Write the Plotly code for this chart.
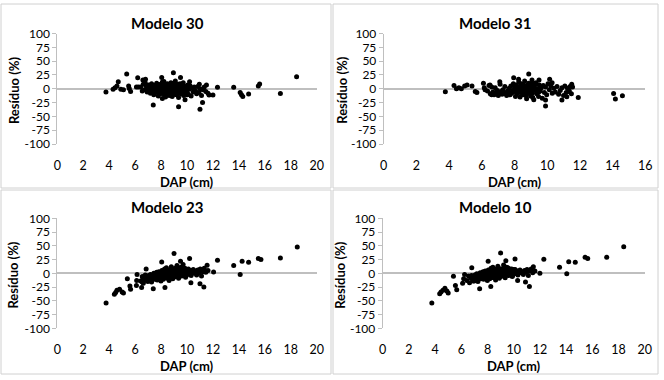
import plotly.graph_objects as go

W, H = 664, 380

# ---------------- data ----------------
# DAP (cm) of the dense cloud of trees, shared by Modelo 30, 23 and 10
dap_cloud = [
    6.42, 6.55, 6.63, 6.71, 6.78, 6.86, 6.93, 6.98, 7.04, 7.09,
    7.13, 7.18, 7.22, 7.27, 7.33, 7.38, 7.44, 7.48, 7.52, 7.57,
    7.61, 7.66, 7.70, 7.74, 7.79, 7.83, 7.87, 7.91, 7.95, 7.99,
    8.03, 8.06, 8.10, 8.13, 8.17, 8.20, 8.24, 8.27, 8.31, 8.34,
    8.38, 8.41, 8.45, 8.48, 8.52, 8.55, 8.59, 8.62, 8.66, 8.69,
    8.72, 8.76, 8.79, 8.83, 8.86, 8.90, 8.93, 8.97, 9.01, 9.04,
    9.08, 9.12, 9.15, 9.19, 9.23, 9.27, 9.31, 9.35, 9.39, 9.43,
    9.47, 9.51, 9.56, 9.60, 9.65, 9.69, 9.74, 9.79, 9.84, 9.89,
    9.94, 9.99, 10.05, 10.11, 10.18, 10.25, 10.32, 10.40, 10.48, 10.56,
    10.65, 10.74, 10.83, 10.92, 11.02, 11.12, 11.22, 11.33, 11.45, 11.62,
    7.35, 7.58, 7.81, 7.97, 8.08, 8.15, 8.22, 8.29, 8.36, 8.43,
    8.50, 8.57, 8.64, 8.71, 8.78, 8.85, 8.92, 8.99, 9.06, 9.13,
    9.20, 9.29, 9.37, 9.45, 9.53, 9.62, 9.71, 9.81, 9.92, 10.02,
    7.12, 7.46, 7.73, 8.01, 8.26, 8.47, 8.68, 8.88, 9.10, 9.33,
]

res30_cloud = [
    3, -4, 8, -2, 11, 5, -6, 1, 7, -3,
    4, -8, 2, 9, -5, 0, -11, 6, -2, 3,
    -7, 10, -1, 4, -13, 2, -4, 7, -9, 1,
    5, -3, 12, -6, 0, 8, -10, 3, -2, -15,
    6, -5, 1, 9, -8, 4, -1, -12, 7, 2,
    -4, 11, -7, 3, -14, 0, 6, -2, 10, -9,
    2, -6, 5, -11, 8, -3, 1, -16, 4, -7,
    9, -2, -9, 3, -5, 6, -12, 0, 4, -8,
    2, -4, 7, -10, -1, 5, -13, 1, -6, 3,
    -3, -9, 4, -7, 0, -12, -2, 3, -5, -8,
    -1, 5, -3, 8, -6, 2, 13, -4, 0, 6,
    -2, 3, -7, 1, 9, -5, 4, -1, -10, 7,
    0, -4, 6, -8, 2, -3, 11, -6, 1, -11,
    6, -5, 2, 4, -9, 3, -1, 5, -4, 8,
]

res23_cloud = [
    -14, -6, -18, -9, -3, -13, -7, -15, -4, -10,
    -12, -2, -8, -16, -5, -9, 0, -11, -6, -3,
    -8, 2, -12, -4, -7, 3, -10, -1, -5, -14,
    -2, 5, -6, 0, -11, 4, -3, 8, -8, 1,
    -5, 10, -1, -9, 3, -4, 6, -13, 0, 4,
    -7, 2, 12, -3, 5, -10, 1, 7, -4, 3,
    9, -6, 4, 0, 14, -2, 6, -9, 3, 8,
    -1, 5, 11, -5, 2, 7, -3, 4, 9, -7,
    3, 6, -2, 8, 1, 5, -4, 2, 7, 0,
    4, -3, 6, 1, 8, -5, 3, 9, 2, 5,
    -9, -3, -6, 0, -4, 3, -8, 2, -5, 6,
    1, -6, 4, -2, 8, -1, 3, -7, 5, 0,
    6, 2, -3, 10, 4, -4, 7, 1, -5, 5,
    -13, -7, -1, -5, 2, -8, 4, -3, 6, 1,
]

res10_cloud = [
    -13, -5, -17, -8, -4, -12, -6, -14, -3, -9,
    -11, -1, -9, -15, -4, -8, 1, -10, -7, -2,
    -7, 3, -11, -5, -6, 4, -9, 0, -4, -13,
    -1, 6, -5, 1, -10, 3, -2, 9, -7, 2,
    -4, 11, 0, -8, 2, -3, 7, -12, 1, 5,
    -6, 3, 13, -2, 4, -9, 2, 8, -3, 2,
    8, -5, 5, 1, 15, -1, 5, -8, 4, 7,
    0, 6, 10, -4, 3, 6, -2, 5, 8, -6,
    2, 7, -1, 7, 2, 4, -3, 3, 6, 1,
    3, -2, 5, 2, 7, -4, 4, 8, 1, 4,
    -8, -2, -5, 1, -3, 4, -7, 3, -4, 7,
    2, -5, 5, -1, 9, 0, 4, -6, 6, 1,
    7, 3, -2, 11, 5, -3, 8, 2, -4, 6,
    -12, -6, 0, -4, 3, -7, 5, -2, 7, 2,
]

# scattered trees (outside the dense cloud)
dap30_out = [3.75, 4.3, 4.45, 4.6, 4.7, 4.9, 5.1, 5.35, 5.5, 5.55, 5.65, 6.1, 6.2, 6.25,
             6.6, 6.8, 7.0, 7.4, 8.05, 8.1, 8.95, 9.1, 9.35, 9.5, 9.85, 10.2, 10.95,
             11.0, 11.2, 11.5, 11.7, 12.0, 12.35, 13.6, 14.1, 14.2, 14.3, 14.75,
             15.5, 15.6, 17.2, 18.45]
res30_out = [-6, -1, 2, 5, 12.6, -1, -2, 26.5, 5, 0.6, -5, 3, 20, 3,
             16, 17, 2, -29.5, 20.5, -17.5, 29, 14, -32.5, 20.5, -20, 12.6, 8,
             -37, -25, 6.6, -11.5, -11.5, 2.5, 2.5, -7, -11, -14, -9.6,
             5, 8.5, -8.5, 21.7]

dap23_out = [3.76, 4.4, 4.5, 4.6, 4.8, 5.0, 5.1, 5.4, 5.6, 5.65, 6.1, 6.12, 6.15,
             6.5, 6.55, 6.6, 6.85, 7.4, 8.05, 8.3, 9.0, 9.5, 9.7, 10.2, 10.3, 11.0,
             11.3, 11.55, 12.05, 12.35, 13.6, 14.1, 14.25, 14.75, 15.5, 15.7, 17.2, 18.5]
res23_out = [-54, -38, -35, -31, -29, -34, -36, -10, -23, -29, -22, -13, -2,
             -26, -16, -8, 8, -28, 20.6, -26, 35.8, 22, 16, 26.7, -17, -19,
             -25, 14.5, 2.4, 23.6, 14, -2, 22, 20, 27, 25, 28, 48]

dap10_out = [3.75, 4.35, 4.45, 4.6, 4.75, 4.9, 5.0, 5.4, 5.55, 5.65, 6.1, 6.18, 6.25,
             6.8, 6.85, 6.9, 7.4, 8.05, 8.25, 9.0, 9.4, 10.1, 10.3, 10.9, 11.2,
             11.5, 12.0, 12.3, 13.5, 14.05, 14.2, 14.7, 15.45, 15.65, 17.1, 18.4]
res10_out = [-54, -37, -34, -31, -27, -32, -36, -5.5, -22, -30, -18, -10, -2,
             10, -8, -14, -28, 22, -24, 37, 23, 26, -13, -16, -24,
             12, 0, 25.5, 11, -1, 21, 20, 29, 27, 29, 48.5]

# Modelo 31 (different set of trees)
dap31_cloud = [
    6.35, 6.44, 6.52, 6.61, 6.68, 6.75, 6.82, 6.88, 6.95, 7.01,
    7.07, 7.12, 7.18, 7.24, 7.29, 7.35, 7.41, 7.46, 7.52, 7.57,
    7.63, 7.68, 7.73, 7.78, 7.83, 7.88, 7.93, 7.98, 8.02, 8.06,
    8.10, 8.14, 8.18, 8.22, 8.26, 8.30, 8.34, 8.38, 8.42, 8.46,
    8.50, 8.54, 8.58, 8.62, 8.66, 8.70, 8.74, 8.78, 8.82, 8.86,
    8.90, 8.94, 8.98, 9.02, 9.06, 9.10, 9.14, 9.18, 9.22, 9.27,
    9.32, 9.37, 9.42, 9.47, 9.52, 9.58, 9.64, 9.70, 9.76, 9.83,
    9.90, 9.97, 10.05, 10.13, 10.22, 10.31, 10.40, 10.50, 10.60, 10.70,
    10.80, 10.90, 11.00, 11.08, 11.16, 11.24, 11.32, 11.40, 11.48, 11.55,
    8.04, 8.16, 8.28, 8.40, 8.52, 8.64, 8.76, 8.88, 9.00, 9.12,
    9.24, 9.36, 9.48, 8.09, 8.33, 8.57, 8.81, 9.05, 8.45, 8.69,
]
res31_cloud = [
    -4, 6, -9, 3, -6, -11, 2, -7, -3, -12,
    -8, 8, -5, -10, -2, -7, 4, -9, -12, -4,
    -6, 1, -11, 5, -8, -3, 9, -5, 2, -14,
    7, -9, 3, -4, 12, -1, -15, 5, -6, 1,
    -11, 8, -3, 14, -7, 2, -18, 4, -2, 10,
    -5, 6, -13, 1, 9, -8, 3, -20, 5, -3,
    11, -9, 0, -14, 7, -4, 2, -17, 6, -7,
    3, -11, 9, -2, 5, -8, 1, -6, 4, -10,
    -3, 2, -12, 5, -7, 1, -5, 4, -9, 3,
    -2, 4, -7, 9, -10, 1, 6, -5, 3, -16,
    8, -1, -6, 2, -4, 5, -8, 0, 7, -12,
]
dap31_out = [3.77, 4.3, 4.45, 4.6, 4.75, 4.95, 5.1, 5.4, 5.6, 5.7, 6.1, 6.15, 6.2,
             6.5, 6.6, 7.1, 7.95, 8.25, 8.87, 9.07, 9.5, 9.9, 9.9, 10.15, 10.3,
             10.9, 11.2, 11.35, 11.5, 11.9, 14.06, 14.17, 14.6]
res31_out = [-5.4, 6, 0, 2, 0, 5, 6.6, 5, -5, -7, 10, 2, -2,
             7, -11, 12.6, 20, 17, 26.5, 15.7, 15.7, -20.5, -31, 17, 11,
             -20.5, -14.5, -3.6, 8, -15.7, -8.4, -18.7, -12.6]

panel_titles = ["Modelo 30", "Modelo 31", "Modelo 23", "Modelo 10"]
x_max = [20, 16, 20, 20]
y_ticks = [-100, -75, -50, -25, 0, 25, 50, 75, 100]
y_tick_text = ["-100", "-75", "-50", "-25", "0", "25", "50", "75", "100"]
x_title = "DAP (cm)"
y_title = "Resíduo (%)"

series = [
    (dap_cloud + dap30_out, res30_cloud + res30_out),
    (dap31_cloud + dap31_out, res31_cloud + res31_out),
    (dap_cloud + dap23_out, res23_cloud + res23_out),
    (dap_cloud + dap10_out, res10_cloud + res10_out),
]

# ---------------- layout (pixel geometry) ----------------
# plot areas: (left, right, top(y=100), bottom(y=-100)) in pixels
areas = [
    (57.3, 316.7, 33.5, 144.0),
    (383.7, 645.3, 33.5, 144.0),
    (57.3, 316.7, 218.3, 328.3),
    (382.7, 644.7, 218.3, 328.3),
]
frames = [
    (1, 4, 331, 188),
    (333, 4, 658, 188),
    (1, 190, 331, 374),
    (333, 190, 658, 374),
]
title_pos = [(167, 22.7), (495, 22.7), (167, 206.7), (495, 206.7)]
ytitle_x = [13.3, 342, 13.3, 340.5]

FONT = "Lato, Carlito, Calibri, sans-serif"
GREY = "#bfbfbf"

fig = go.Figure()
layout = dict(
    width=W, height=H,
    margin=dict(l=0, r=0, t=0, b=0),
    paper_bgcolor="white", plot_bgcolor="white",
    showlegend=False,
    font=dict(family=FONT, size=12, color="black"),
)
annotations = []
shapes = []

for i in range(4):
    sfx = "" if i == 0 else str(i + 1)
    xs, ys = series[i]
    fig.add_trace(go.Scatter(
        x=xs, y=ys, mode="markers",
        marker=dict(size=5, color="black"),
        xaxis="x" + sfx, yaxis="y" + sfx,
        hoverinfo="x+y",
    ))
    l, r, t, b = areas[i]
    layout["xaxis" + sfx] = dict(
        domain=[l / W, r / W], range=[0, x_max[i]],
        tickvals=list(range(0, x_max[i] + 1, 2)),
        showline=False, showgrid=False, zeroline=False, ticks="",
        anchor="y" + sfx, ticklabelstandoff=12, automargin=False,
        tickfont=dict(size=12.5, color="black"),
        fixedrange=True,
    )
    layout["yaxis" + sfx] = dict(
        domain=[1 - b / H, 1 - t / H], range=[-100, 100],
        tickvals=y_ticks, ticktext=y_tick_text,
        showline=True, linecolor=GREY, linewidth=1,
        ticks="outside", ticklen=4, tickcolor=GREY,
        showgrid=False, zeroline=True, zerolinecolor=GREY, zerolinewidth=1.5,
        anchor="x" + sfx, automargin=False,
        tickfont=dict(size=12, color="black"),
        fixedrange=True,
    )
    tx, ty = title_pos[i]
    annotations.append(dict(
        text="<b>%s</b>" % panel_titles[i], x=tx / W, y=1 - ty / H,
        xref="paper", yref="paper", showarrow=False,
        xanchor="center", yanchor="middle",
        font=dict(size=15, family=FONT, color="black"),
    ))
    annotations.append(dict(
        text="<b>%s</b>" % x_title, x=(l + r) / 2 / W, y=1 - (b + 37.7) / H,
        xref="paper", yref="paper", showarrow=False,
        xanchor="center", yanchor="middle",
        font=dict(size=13, family=FONT, color="black"),
    ))
    annotations.append(dict(
        text="<b>%s</b>" % y_title, x=ytitle_x[i] / W, y=1 - ((t + b) / 2 + 2) / H,
        xref="paper", yref="paper", showarrow=False, textangle=-90,
        xanchor="center", yanchor="middle",
        font=dict(size=13, family=FONT, color="black"),
    ))
    fx0, fy0, fx1, fy1 = frames[i]
    shapes.append(dict(
        type="rect", xref="paper", yref="paper",
        x0=fx0 / W, x1=fx1 / W, y0=1 - fy1 / H, y1=1 - fy0 / H,
        line=dict(color="#d0d0d0", width=1), layer="below",
    ))

layout["annotations"] = annotations
layout["shapes"] = shapes
fig.update_layout(**layout)

fig.write_html(
    "out.html",
    config={"displayModeBar": False},
    post_script="document.body.style.margin='0';document.body.style.overflow='hidden';",
)
